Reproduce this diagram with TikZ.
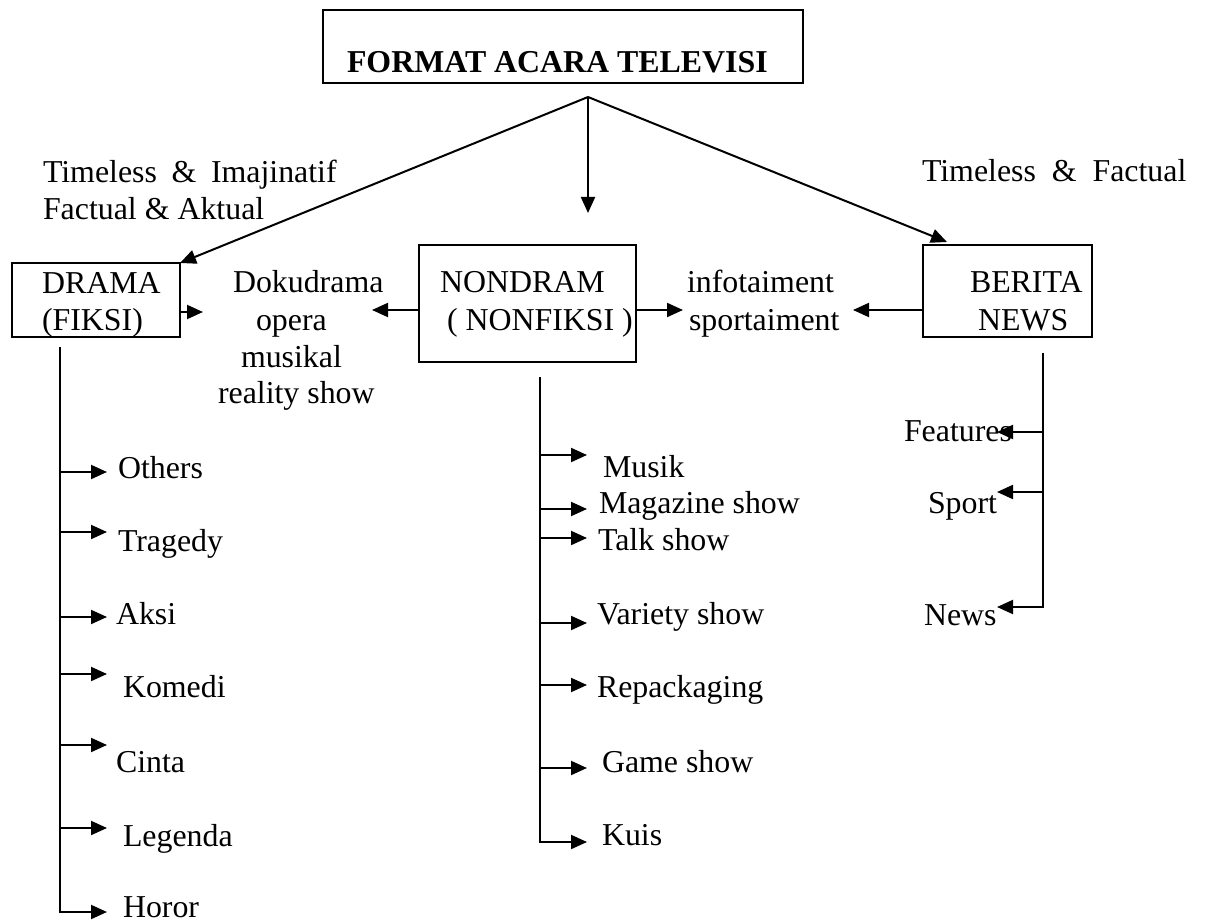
\documentclass[tikz,border=0pt]{standalone}
\usepackage{fontspec}
\setmainfont{Liberation Serif}
\usetikzlibrary{arrows.meta}
\def\fsz{\fontsize{23.9pt}{28pt}\selectfont}
\begin{document}
\begin{tikzpicture}[x=0.75pt,y=-0.75pt,
  every node/.style={inner sep=0pt, outer sep=0pt, font=\fsz},
  txt/.style={anchor=base west},
  frame/.style={draw, line width=1.5pt, anchor=north west},
  arr/.style={line width=1.5pt, -{Triangle[length=12pt,width=10.5pt]}},
  stem/.style={line width=1.5pt}]
\useasboundingbox (0,0) rectangle (1205,923);

% ---- frames ----
\node[frame, minimum width=360pt,    minimum height=54.75pt] (fmt)     at (323,10)  {};
\node[frame, minimum width=126pt,    minimum height=55.5pt]  (drama)   at (12,263)  {};
\node[frame, minimum width=162.75pt, minimum height=87.75pt] (nondram) at (419,245) {};
\node[frame, minimum width=126.75pt, minimum height=69pt]    (berita)  at (923,245) {};

% ---- frame texts ----
\node[txt, font=\fsz\bfseries] (fmtlabel) at (347,73) {FORMAT ACARA TELEVISI};
\node[txt] (dramaA)   at (42,294)  {DRAMA};
\node[txt] (dramaB)   at (42,330)  {(FIKSI)};
\node[txt] (nondramA) at (440,293) {NONDRAM};
\node[txt] (nondramB) at (447,330) {( NONFIKSI )};
\node[txt] (beritaA)  at (970,293) {BERITA};
\node[txt] (beritaB)  at (978,330) {NEWS};

% ---- side notes ----
\node[txt] (timeA) at (43,183)  {Timeless\hspace{0.46em}\&\hspace{0.46em}Imajinatif};
\node[txt] (timeB) at (43,220)  {Factual \& Aktual};
\node[txt] (timeC) at (922,182) {Timeless\hspace{0.5em}\&\hspace{0.5em}Factual};

% ---- mixed formats ----
\node[txt] (mix1) at (233,293) {Dokudrama};
\node[txt] (mix2) at (256,330) {opera};
\node[txt] (mix3) at (241,367) {musikal};
\node[txt] (mix4) at (218,403) {reality show};
\node[txt] (info1) at (687,293) {infotaiment};
\node[txt] (info2) at (689,330) {sportaiment};

% ---- top-level arrows ----
\coordinate (apex)    at (588,97);
\coordinate (midtip)  at (588,213);
\coordinate (newstip) at (947,242);
\draw[arr] (apex) -- (drama.north east);
\draw[arr] (apex) -- (midtip);
\draw[arr] (apex) -- (newstip);

% ---- side arrows ----
\coordinate (mixL)  at (203,312);
\coordinate (mixR)  at (372,310);
\coordinate (infoL) at (683,310);
\coordinate (infoR) at (853,310);
\draw[arr] (drama.east |- mixL)    -- (mixL);
\draw[arr] (nondram.west |- mixR)  -- (mixR);
\draw[arr] (nondram.east |- infoL) -- (infoL);
\draw[arr] (berita.west |- infoR)  -- (infoR);

% ---- drama genres ----
\coordinate (dtrunk) at (60,347);
\foreach \nm/\yy/\lx/\ly/\t in {
    others/472/118/478/Others,
    tragedy/532/118/551/Tragedy,
    aksi/617/116/624/Aksi,
    komedi/674/123/697/Komedi,
    cinta/745/116/772/Cinta,
    legenda/828/123/846/Legenda,
    horor/912/123/917/Horor}{
  \node[txt] (\nm) at (\lx,\ly) {\t};
  \coordinate (\nm-tip) at (107,\yy);
}
\draw[arr] (dtrunk) |- (horor-tip);
\foreach \nm in {others,tragedy,aksi,komedi,cinta,legenda}
  \draw[arr] (dtrunk |- \nm-tip) -- (\nm-tip);

% ---- non-drama formats ----
\coordinate (ntrunk) at (540,377);
\foreach \nm/\yy/\lx/\ly/\t in {
    musik/455/603/477/Musik,
    magazine/509/599/513/Magazine show,
    talk/538/598/550/Talk show,
    variety/623/597/624/Variety show,
    repack/685/597/697/Repackaging,
    game/768/602/772/Game show,
    kuis/842/602/845/Kuis}{
  \node[txt] (\nm) at (\lx,\ly) {\t};
  \coordinate (\nm-tip) at (587,\yy);
}
\draw[arr] (ntrunk) |- (kuis-tip);
\foreach \nm in {musik,magazine,talk,variety,repack,game}
  \draw[arr] (ntrunk |- \nm-tip) -- (\nm-tip);

% ---- news formats ----
\coordinate (btrunk) at (1043,353);
\foreach \nm/\yy/\lx/\ly/\t in {
    features/432/904/441/Features,
    sport/492/928/513/Sport,
    news/607/924/625/News}{
  \node[txt] (\nm) at (\lx,\ly) {\t};
  \coordinate (\nm-tip) at (997,\yy);
}
\draw[arr] (btrunk) |- (news-tip);
\foreach \nm in {features,sport}
  \draw[arr] (btrunk |- \nm-tip) -- (\nm-tip);
\end{tikzpicture}
\end{document}
